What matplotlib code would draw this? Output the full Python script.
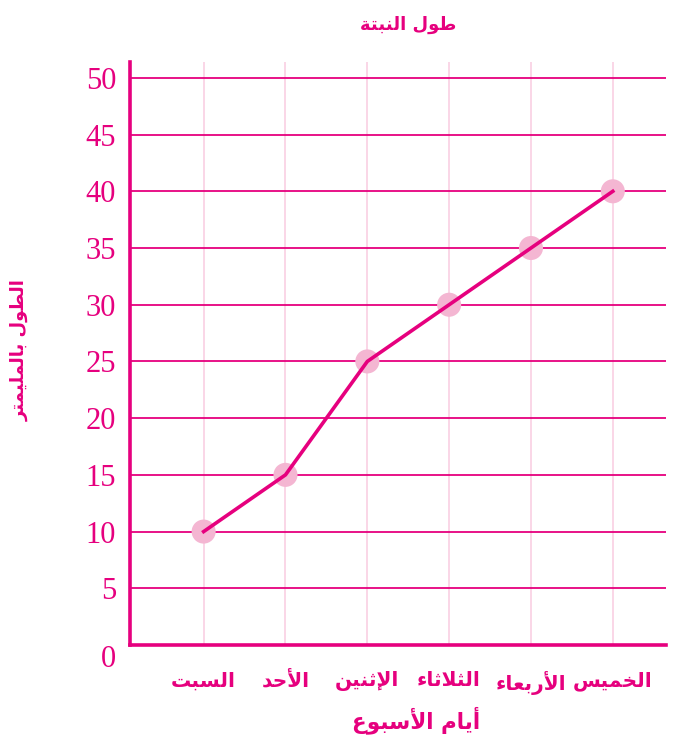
import matplotlib
matplotlib.use("Agg")
import matplotlib.pyplot as plt

# Data
days = ["السبت", "الأحد", "الإثنين", "الثلاثاء", "الأربعاء", "الخميس"]
lengths = [10, 15, 25, 30, 35, 40]
y_ticks = [0, 5, 10, 15, 20, 25, 30, 35, 40, 45, 50]
title = "طول النبتة"
x_label = "أيام الأسبوع"
y_label = "الطول بالمليمتر"

MAGENTA = "#E6007E"
MARKER_PINK = "#F4B6D2"
GRID_PINK = "#F9D0E3"

# Arabic presentation forms: (isolated, final, initial, medial)
FORMS = {
    "ء": ("\uFE80",),
    "ا": ("\uFE8D", "\uFE8E"), "أ": ("\uFE83", "\uFE84"), "إ": ("\uFE87", "\uFE88"),
    "ب": ("\uFE8F", "\uFE90", "\uFE91", "\uFE92"),
    "ة": ("\uFE93", "\uFE94"),
    "ت": ("\uFE95", "\uFE96", "\uFE97", "\uFE98"),
    "ث": ("\uFE99", "\uFE9A", "\uFE9B", "\uFE9C"),
    "ح": ("\uFEA1", "\uFEA2", "\uFEA3", "\uFEA4"),
    "خ": ("\uFEA5", "\uFEA6", "\uFEA7", "\uFEA8"),
    "د": ("\uFEA9", "\uFEAA"), "ر": ("\uFEAD", "\uFEAE"),
    "س": ("\uFEB1", "\uFEB2", "\uFEB3", "\uFEB4"),
    "ط": ("\uFEC1", "\uFEC2", "\uFEC3", "\uFEC4"),
    "ع": ("\uFEC9", "\uFECA", "\uFECB", "\uFECC"),
    "ل": ("\uFEDD", "\uFEDE", "\uFEDF", "\uFEE0"),
    "م": ("\uFEE1", "\uFEE2", "\uFEE3", "\uFEE4"),
    "ن": ("\uFEE5", "\uFEE6", "\uFEE7", "\uFEE8"),
    "و": ("\uFEED", "\uFEEE"),
    "ي": ("\uFEF1", "\uFEF2", "\uFEF3", "\uFEF4"),
    # lam-alef ligatures
    "لا": ("\uFEFB", "\uFEFC"), "لأ": ("\uFEF7", "\uFEF8"), "لإ": ("\uFEF9", "\uFEFA"),
}


def shape(text):
    # merge lam + alef into ligature units
    units = []
    i = 0
    while i < len(text):
        if text[i] == "ل" and i + 1 < len(text) and text[i:i + 2] in FORMS:
            units.append(text[i:i + 2])
            i += 2
        else:
            units.append(text[i])
            i += 1
    out = []
    for k, u in enumerate(units):
        if u not in FORMS:
            out.append(u)
            continue
        f = FORMS[u]
        prev = units[k - 1] if k > 0 else None
        nxt = units[k + 1] if k + 1 < len(units) else None
        join_prev = prev in FORMS and len(FORMS[prev]) == 4 and len(f) > 1
        join_next = len(f) == 4 and nxt in FORMS and len(FORMS[nxt]) > 1
        if join_prev and join_next:
            out.append(f[3])
        elif join_prev:
            out.append(f[1])
        elif join_next:
            out.append(f[2])
        else:
            out.append(f[0])
    return "".join(reversed(out))


def plot_data():
    fig = plt.figure(figsize=(6.8, 7.5), dpi=100)
    ax = fig.add_axes([130 / 680, 1 - 645 / 750, 536 / 680, 583 / 750])

    x = list(range(len(days)))
    ax.plot(x, lengths, color=MAGENTA, linewidth=2.6, zorder=4)
    ax.scatter(x, lengths, s=300, color=MARKER_PINK, edgecolors="none", zorder=3)

    ax.set_xlim(-0.9, 5.65)
    ax.set_ylim(0, 51.4)
    ax.set_yticks(y_ticks)
    ax.set_xticks(x)
    ax.set_xticklabels([shape(d) for d in days], family=["DejaVu Sans"],
                       fontsize=14.5, fontweight="bold", color=MAGENTA)
    ax.set_yticklabels([str(v) for v in y_ticks], family=["Liberation Serif"],
                       fontsize=22, color=MAGENTA)
    ax.get_yticklabels()[0].set_va("top")

    ax.tick_params(axis="both", length=0)
    ax.tick_params(axis="y", pad=10)
    ax.tick_params(axis="x", pad=19)

    ax.yaxis.grid(True, color=MAGENTA, linewidth=1.3, zorder=1)
    ax.xaxis.grid(True, color=GRID_PINK, linewidth=1.2, zorder=0)
    ax.set_axisbelow(True)

    for side in ["top", "right"]:
        ax.spines[side].set_visible(False)
    for side in ["left", "bottom"]:
        ax.spines[side].set_color(MAGENTA)
        ax.spines[side].set_linewidth(2.6)

    fig.text(408 / 680, 1 - 25 / 750, shape(title), ha="center", va="center",
             family=["DejaVu Sans"], fontsize=13, fontweight="bold", color=MAGENTA)
    fig.text(416 / 680, 1 - 720 / 750, shape(x_label), ha="center", va="center",
             family=["DejaVu Sans"], fontsize=15.5, fontweight="bold", color=MAGENTA)
    fig.text(20 / 680, 1 - 350 / 750, shape(y_label), ha="center", va="center",
             rotation=90, family=["DejaVu Sans"], fontsize=13, fontweight="bold",
             color=MAGENTA)

    fig.savefig("out.png", dpi=100)


if __name__ == "__main__":
    plot_data()
